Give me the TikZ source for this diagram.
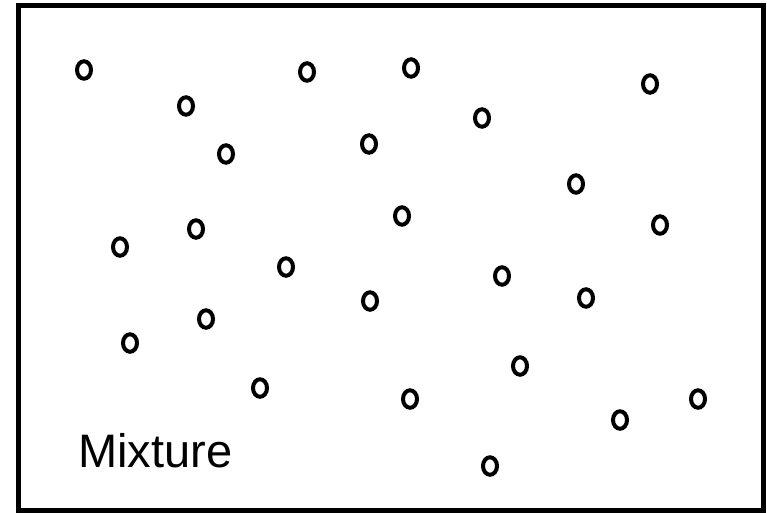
\documentclass[tikz,border=0pt]{standalone}
\usepackage{fontspec}
\setmainfont{Liberation Sans}
\usetikzlibrary{shapes.geometric}
\begin{document}
\begin{tikzpicture}[x=1pt,y=-1pt,
  particle/.style={draw=black, ellipse, line width=4pt, minimum width=14pt, minimum height=17.5pt, inner sep=0pt},
  frame/.style={draw=black, line width=5pt},
  lbl/.style={font=\fontsize{47}{56}\selectfont, inner sep=0pt, anchor=base west}]
\useasboundingbox (0,0) rectangle (767,513);
\node[frame, rectangle, minimum width=745pt, minimum height=505pt, inner sep=0pt] (box) at (391,258) {};
\node[particle] (c1) at (84,70) {};
\node[particle] (c2) at (186,106) {};
\node[particle] (c3) at (226,154) {};
\node[particle] (c4) at (307,72) {};
\node[particle] (c5) at (411,68) {};
\node[particle] (c6) at (369,144) {};
\node[particle] (c7) at (482,118) {};
\node[particle] (c8) at (650,84) {};
\node[particle] (c9) at (576,184) {};
\node[particle] (c10) at (660,225) {};
\node[particle] (c11) at (402,216) {};
\node[particle] (c12) at (120,247) {};
\node[particle] (c13) at (196,229) {};
\node[particle] (c14) at (286,267) {};
\node[particle] (c15) at (370,301) {};
\node[particle] (c16) at (502,276) {};
\node[particle] (c17) at (586,298) {};
\node[particle] (c18) at (130,343) {};
\node[particle] (c19) at (206,319) {};
\node[particle] (c20) at (260,388) {};
\node[particle] (c21) at (410,399) {};
\node[particle] (c22) at (520,366) {};
\node[particle] (c23) at (620,420) {};
\node[particle] (c24) at (698,399) {};
\node[particle] (c25) at (490,466) {};
\node[lbl] (mix) at (78,467) {Mixture};
\end{tikzpicture}
\end{document}
